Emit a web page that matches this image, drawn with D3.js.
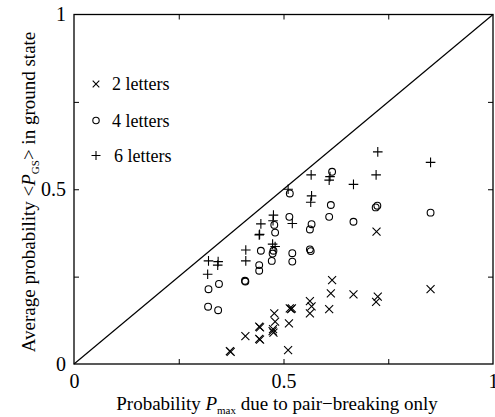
<!DOCTYPE html>
<html><head><meta charset="utf-8">
<script src="https://cdn.jsdelivr.net/npm/d3@7/dist/d3.min.js"></script>
<style>
html,body{margin:0;padding:0;background:#fff;}
svg{display:block;font-family:"Liberation Serif","DejaVu Serif",serif;}
</style></head>
<body><svg id="c" width="495" height="417"></svg>
<script>
const letters2 = [[0.372,0.037],[0.374,0.035],[0.409,0.080],[0.442,0.107],[0.444,0.105],[0.442,0.072],[0.444,0.070],
 [0.475,0.100],[0.474,0.094],[0.476,0.090],[0.478,0.145],[0.480,0.121],[0.513,0.116],[0.511,0.040],
 [0.515,0.159],[0.520,0.159],[0.518,0.157],[0.563,0.180],[0.567,0.165],[0.563,0.145],
 [0.609,0.157],[0.613,0.202],[0.616,0.240],[0.667,0.199],[0.721,0.178],[0.725,0.193],[0.722,0.379],[0.851,0.214]];
const letters4 = [[0.321,0.214],[0.320,0.164],[0.346,0.229],[0.344,0.154],[0.408,0.238],[0.409,0.236],
 [0.442,0.283],[0.442,0.267],[0.446,0.324],[0.472,0.295],[0.474,0.316],[0.476,0.324],[0.480,0.376],[0.478,0.398],
 [0.514,0.421],[0.515,0.488],[0.521,0.317],[0.521,0.293],[0.563,0.385],[0.567,0.400],[0.563,0.328],[0.565,0.323],
 [0.609,0.421],[0.613,0.455],[0.616,0.550],[0.667,0.407],[0.720,0.448],[0.724,0.453],[0.851,0.433]];
const letters6 = [[0.321,0.295],[0.319,0.257],[0.344,0.293],[0.343,0.283],[0.410,0.326],[0.410,0.295],
 [0.442,0.369],[0.443,0.371],[0.446,0.401],[0.476,0.426],[0.475,0.410],[0.474,0.343],[0.480,0.336],
 [0.511,0.500],[0.521,0.402],[0.566,0.541],[0.567,0.481],[0.565,0.463],[0.609,0.526],[0.611,0.536],
 [0.667,0.514],[0.721,0.541],[0.725,0.607],[0.851,0.577]];
const seriesNames = ["2 letters","4 letters","6 letters"];
const majorTicks = [0,0.5,1];
const minorTicks = [0.25,0.5,0.75];
const tickLabels = ["0","0.5","1"];

const svg = d3.select("#c");
const L=74,R=493,T=14.5,B=364;
const x = d3.scaleLinear().domain([0,1]).range([L,R]);
const y = d3.scaleLinear().domain([0,1]).range([B,T]);
const ink="#000";

// diagonal
svg.append("line").attr("x1",x(0)).attr("y1",y(0)).attr("x2",x(1)).attr("y2",y(1))
  .attr("stroke",ink).attr("stroke-width",1.2);

// frame
svg.append("rect").attr("x",L).attr("y",T).attr("width",R-L).attr("height",B-T)
  .attr("fill","none").attr("stroke",ink).attr("stroke-width",1.3);

// ticks (inward, mirrored)
const tl=5;
const gx = svg.append("g").attr("transform",`translate(0,${B})`)
  .call(d3.axisBottom(x).tickValues(minorTicks).tickSize(-tl).tickFormat(""));
const gxt = svg.append("g").attr("transform",`translate(0,${T})`)
  .call(d3.axisTop(x).tickValues(minorTicks).tickSize(-tl).tickFormat(""));
const gy = svg.append("g").attr("transform",`translate(${L},0)`)
  .call(d3.axisLeft(y).tickValues(minorTicks).tickSize(-tl).tickFormat(""));
const gyr = svg.append("g").attr("transform",`translate(${R},0)`)
  .call(d3.axisRight(y).tickValues(minorTicks).tickSize(-tl).tickFormat(""));
[gx,gxt,gy,gyr].forEach(g=>{g.select(".domain").remove();g.selectAll("line").attr("stroke",ink).attr("stroke-width",1);});

// tick labels
const fmt = d => tickLabels[majorTicks.indexOf(d)];
const lx = svg.append("g").attr("transform",`translate(0,${B})`)
  .call(d3.axisBottom(x).tickValues(majorTicks).tickSize(0).tickPadding(8).tickFormat(fmt));
const ly = svg.append("g").attr("transform",`translate(${L},0)`)
  .call(d3.axisLeft(y).tickValues(majorTicks).tickSize(0).tickPadding(8).tickFormat(fmt));
[lx,ly].forEach(g=>{g.select(".domain").remove();
  g.selectAll("text").attr("font-family","Liberation Serif, serif").attr("font-size",20).attr("fill",ink);});
lx.selectAll("text").attr("dy","0.78em");

// markers
const s=4;
const gm = svg.append("g").attr("fill","none").attr("stroke",ink).attr("stroke-width",1.1);
gm.selectAll("path.c").data(letters2).join("path")
  .attr("d",d=>`M${x(d[0])-s},${y(d[1])-s}L${x(d[0])+s},${y(d[1])+s}M${x(d[0])-s},${y(d[1])+s}L${x(d[0])+s},${y(d[1])-s}`);
gm.selectAll("circle").data(letters4).join("circle")
  .attr("cx",d=>x(d[0])).attr("cy",d=>y(d[1])).attr("r",3.4);
const p=4.8;
gm.selectAll("path.p").data(letters6).join("path").attr("class","p")
  .attr("d",d=>`M${x(d[0])-p},${y(d[1])}L${x(d[0])+p},${y(d[1])}M${x(d[0])},${y(d[1])-p}L${x(d[0])},${y(d[1])+p}`);

// legend
const legY=[84,120.5,155.5], legMx=96;
const lg = svg.append("g");
const ms = 3.3;
lg.append("path").attr("d",`M${legMx-ms},${legY[0]-ms}L${legMx+ms},${legY[0]+ms}M${legMx-ms},${legY[0]+ms}L${legMx+ms},${legY[0]-ms}`)
  .attr("stroke",ink).attr("stroke-width",1.1).attr("fill","none");
lg.append("circle").attr("cx",legMx).attr("cy",legY[1]).attr("r",3.2).attr("stroke",ink).attr("stroke-width",1.1).attr("fill","none");
lg.append("path").attr("d",`M${legMx-4.5},${legY[2]}L${legMx+4.5},${legY[2]}M${legMx},${legY[2]-4.5}L${legMx},${legY[2]+4.5}`)
  .attr("stroke",ink).attr("stroke-width",1.1).attr("fill","none");
seriesNames.forEach((n,i)=>{
  lg.append("text").attr("x",i==2?114:112).attr("y",legY[i]).attr("dy","0.35em")
    .attr("font-size",18).attr("fill",ink).text(n);
});

// x title
const xt = svg.append("text").attr("x",277).attr("y",410).attr("text-anchor","middle").attr("font-size",19).attr("fill",ink);
xt.append("tspan").text("Probability ");
xt.append("tspan").attr("font-style","italic").text("P");
xt.append("tspan").attr("font-size",11).attr("dy",4).text("max");
xt.append("tspan").attr("dy",-4).text(" due to pair\u2212breaking only");

// y title
const yt = svg.append("text").attr("transform","translate(35,192) rotate(-90)").attr("text-anchor","middle").attr("font-size",19).attr("fill",ink);
yt.append("tspan").text("Average probability <");
yt.append("tspan").attr("font-style","italic").text("P");
yt.append("tspan").attr("font-size",11).attr("dy",4).text("GS");
yt.append("tspan").attr("dy",-4).text("> in ground state");
</script></body></html>
